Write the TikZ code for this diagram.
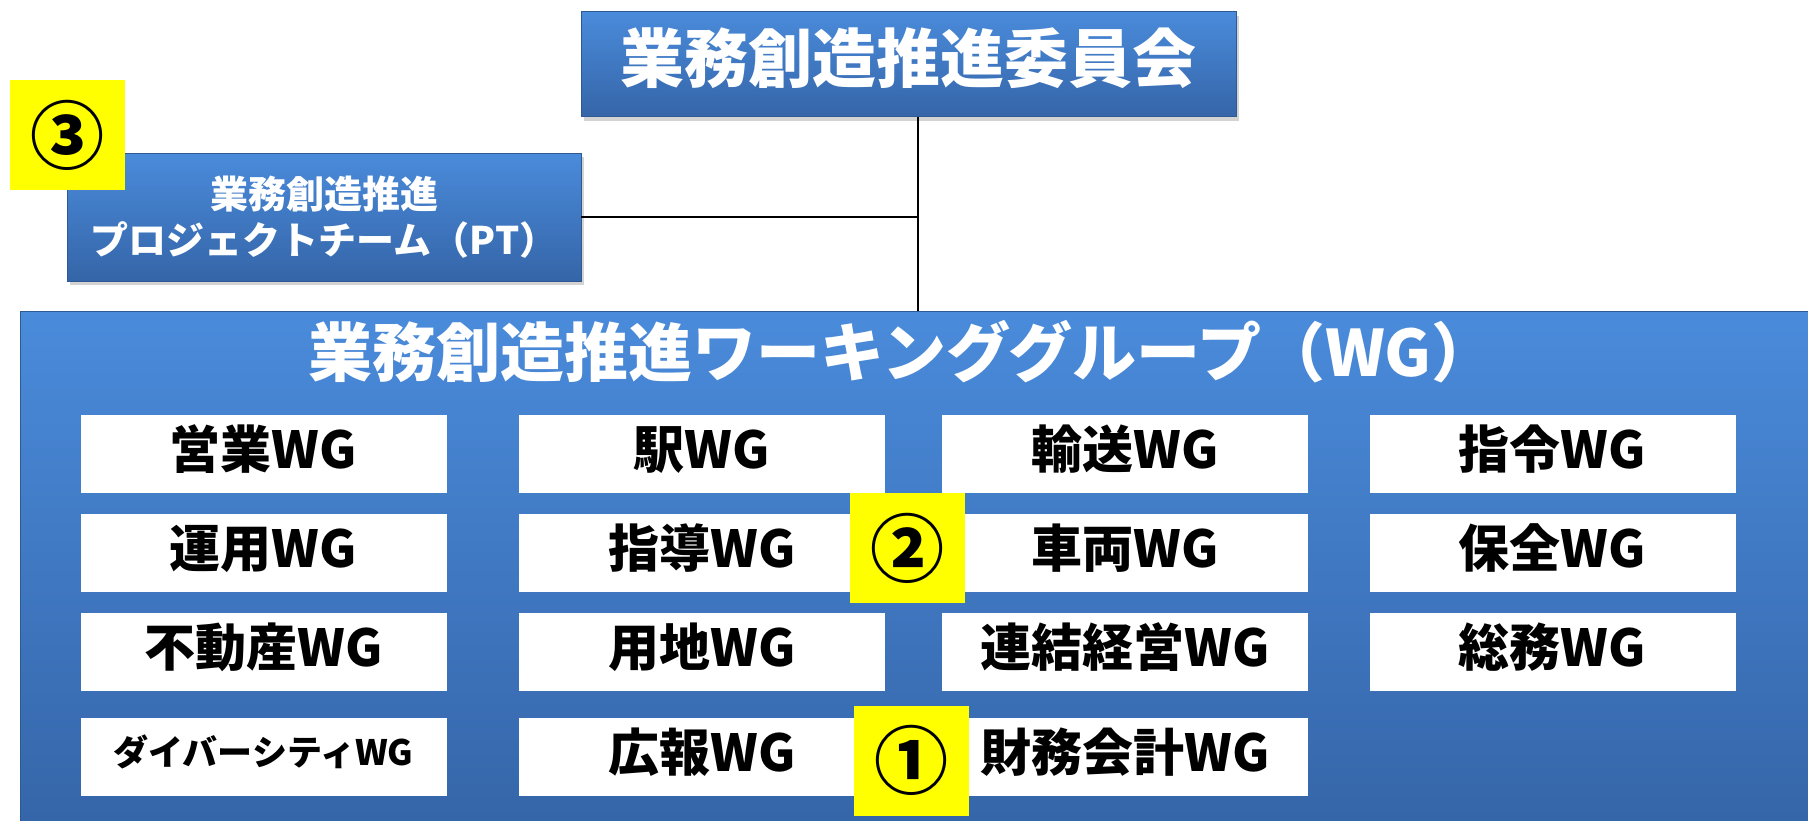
\documentclass[tikz,border=0pt]{standalone}
\usepackage{fontspec}
\setmainfont{Noto Sans CJK JP}
\usetikzlibrary{shadows}
\definecolor{bluetop}{HTML}{4A8BDB}
\definecolor{bluebot}{HTML}{3565A8}
\definecolor{blueedge}{HTML}{2E5A94}
\definecolor{hl}{HTML}{FFFF00}
\tikzset{
  bluebox/.style={rectangle, top color=bluetop, bottom color=bluebot, draw=blueedge, line width=0.8pt,
    text=white, inner sep=0pt, align=center,
    drop shadow={shadow xshift=3pt, shadow yshift=-4pt, opacity=0.35}},
  wgbox/.style={rectangle, fill=white, minimum width=366pt, minimum height=78pt, inner sep=0pt,
    text height=45pt, text depth=16pt,
    font=\bfseries\fontsize{51pt}{54pt}\selectfont},
  numbox/.style={rectangle, fill=hl, minimum width=115pt, minimum height=110pt, inner sep=0pt,
    font=\bfseries\fontsize{74pt}{76pt}\selectfont},
  link/.style={draw=black, line width=2pt}
}
\begin{document}
\begin{tikzpicture}[x=1pt,y=-1pt]
\useasboundingbox (0,0) rectangle (1808,820);
\clip (0,0) rectangle (1808,820);
% top committee
\node[bluebox, minimum width=655pt, minimum height=105pt] (top) at (908.5,64) {};
\node[text=white, inner sep=0pt, font=\bfseries\fontsize{64pt}{66pt}\selectfont]
  (toptitle) at (908.5,58) {業務創造推進委員会};
% PT
\node[bluebox, minimum width=514pt, minimum height=128pt, font=\bfseries\fontsize{38pt}{46pt}\selectfont]
  (pt) at (324,217) {業務創造推進\\プロジェクトチーム（PT）};
% WG big box
\node[bluebox, minimum width=1810pt, minimum height=519pt] (wg) at (925,570.5) {};
\node[text=white, font=\bfseries\fontsize{64pt}{66pt}\selectfont, inner sep=0pt] (wgtitle) at (902,352)
  {業務創造推進ワーキンググループ（WG）};
% connectors
\coordinate (j) at ([xshift=9.5pt]top.south);
\draw[link] (j) -- (j |- wg.north);
\draw[link] (pt.east) -- (pt.east -| j);
% WG boxes
\node[wgbox] (w11) at (263.5,453.5) {営業WG};
\node[wgbox] (w12) at (702,453.5) {駅WG};
\node[wgbox] (w13) at (1125,453.5) {輸送WG};
\node[wgbox] (w14) at (1552.5,453.5) {指令WG};
\node[wgbox] (w21) at (263.5,552.5) {運用WG};
\node[wgbox] (w22) at (702,552.5) {指導WG};
\node[wgbox] (w23) at (1125,552.5) {車両WG};
\node[wgbox] (w24) at (1552.5,552.5) {保全WG};
\node[wgbox] (w31) at (263.5,651.5) {不動産WG};
\node[wgbox] (w32) at (702,651.5) {用地WG};
\node[wgbox] (w33) at (1125,651.5) {連結経営WG};
\node[wgbox] (w34) at (1552.5,651.5) {総務WG};
\node[wgbox, font=\bfseries\fontsize{35pt}{38pt}\selectfont, text height=40pt, text depth=22pt] (w41) at (263.5,756.5) {ダイバーシティWG};
\node[wgbox] (w42) at (702,756.5) {広報WG};
\node[wgbox] (w43) at (1125,756.5) {財務会計WG};
% highlight numbers
\node[numbox] (n3) at (67.5,135) {③};
\node[numbox] (n2) at (907.5,548) {②};
\node[numbox] (n1) at (911.5,760.5) {①};
\end{tikzpicture}
\end{document}
